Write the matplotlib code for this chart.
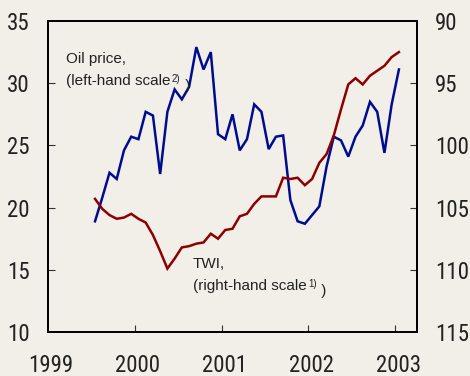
import matplotlib
matplotlib.use("Agg")
import matplotlib.pyplot as plt
import matplotlib.transforms as mtransforms
from matplotlib import font_manager
import numpy as np

# Monthly observations, July 1999 - January 2003 (mid-month positions)
start_year = 1999
start_month = 6  # July (0-based)

oil_price = [18.9, 20.8, 22.8, 22.3, 24.6, 25.7, 25.5, 27.7, 27.4, 22.7,
             27.7, 29.5, 28.7, 29.7, 32.9, 31.1, 32.5, 25.9, 25.5, 27.5,
             24.6, 25.5, 28.3, 27.7, 24.7, 25.7, 25.8, 20.6, 18.9, 18.7,
             19.4, 20.1, 23.3, 25.7, 25.4, 24.1, 25.7, 26.6, 28.5, 27.7,
             24.4, 28.3, 31.1]

twi = [104.3, 105.1, 105.6, 105.9, 105.8, 105.5, 105.9, 106.2, 107.2, 108.5,
       109.9, 109.1, 108.2, 108.1, 107.9, 107.8, 107.1, 107.5, 106.8, 106.7,
       105.7, 105.5, 104.7, 104.1, 104.1, 104.1, 102.6, 102.7, 102.6, 103.2,
       102.7, 101.4, 100.7, 99.2, 97.1, 95.1, 94.6, 95.1, 94.4, 94.0,
       93.6, 92.9, 92.5]

year_ticks = [1999, 2000, 2001, 2002, 2003]
left_ticks = [10, 15, 20, 25, 30, 35]
right_ticks = [90, 95, 100, 105, 110, 115]

n = len(oil_price)
dates = start_year + (start_month + np.arange(n) + 0.5) / 12.0

BG = "#f2efe9"
BLUE = "#000c8f"
RED = "#8c0000"
TEXT = "#222222"

# prefer a narrow sans face for the axis numbers when one is installed
installed = {f.name for f in font_manager.fontManager.ttflist}
narrow = next((f for f in ("Liberation Sans Narrow", "Arial Narrow",
                           "Roboto Condensed", "Open Sans Condensed")
               if f in installed), None)
if narrow:
    TICK_FONT = [narrow, "DejaVu Sans"]
    TICK_SIZE = 16.5
else:
    TICK_FONT = ["Liberation Sans", "DejaVu Sans"]
    TICK_SIZE = 13.8
LABEL_FONT = ["Liberation Sans", "DejaVu Sans"]
LABEL_SIZE, NOTE_SIZE = 11, 7

plt.rcParams["font.family"] = TICK_FONT

fig = plt.figure(figsize=(4.70, 3.76), dpi=100, facecolor=BG)
ax = fig.add_axes([48 / 470, 44 / 376, 369 / 470, 311 / 376])
ax.set_facecolor(BG)
ax2 = ax.twinx()

ax.plot(dates, oil_price, color=BLUE, lw=1.8, solid_joinstyle="miter", zorder=3)
ax2.plot(dates, twi, color=RED, lw=1.8, solid_joinstyle="miter", zorder=3)

ax.set_xlim(1999, 2003.25)
ax.set_ylim(10, 35)
ax2.set_ylim(115, 90)

ax.set_xticks(year_ticks)
ax.set_xticklabels([str(y) for y in year_ticks])
ax.set_yticks(left_ticks)
ax2.set_yticks(right_ticks)

for a in (ax, ax2):
    for s in a.spines.values():
        s.set_color("black")
        s.set_linewidth(1.3)

tick_kw = dict(direction="in", length=5, width=0.8, labelsize=TICK_SIZE,
               labelcolor=TEXT, color="#333333")
ax.tick_params(axis="x", pad=16, **tick_kw)
ax.tick_params(axis="y", pad=13, **tick_kw)
ax2.tick_params(axis="y", pad=13, **tick_kw)

# hide the tick marks sitting on the frame corners, keep their labels
for t in (ax.yaxis.get_major_ticks()[0], ax.yaxis.get_major_ticks()[-1],
          ax2.yaxis.get_major_ticks()[0], ax2.yaxis.get_major_ticks()[-1],
          ax.xaxis.get_major_ticks()[0]):
    t.tick1line.set_visible(False)
    t.tick2line.set_visible(False)

for lab in ax.get_xticklabels():
    lab.set_transform(lab.get_transform() +
                      mtransforms.ScaledTranslation(3 / 100, 0, fig.dpi_scale_trans))

# series labels with small raised footnote markers
def label(x, y, first, second, note):
    ax.text(x, y, first, transform=ax.transAxes, fontsize=LABEL_SIZE,
            family=LABEL_FONT, color=TEXT, ha="left", va="baseline")
    t = ax.text(x, y - 22 / 311, second, transform=ax.transAxes,
                fontsize=LABEL_SIZE, family=LABEL_FONT, color=TEXT,
                ha="left", va="baseline")
    s = ax.annotate(note, xy=(1, 0), xycoords=t, xytext=(1, 4.5),
                    textcoords="offset points", fontsize=NOTE_SIZE,
                    family=LABEL_FONT, color=TEXT, ha="left", va="baseline")
    ax.annotate(" )", xy=(1, 0), xycoords=s, xytext=(0, -4.5),
                textcoords="offset points", fontsize=LABEL_SIZE,
                family=LABEL_FONT, color=TEXT, ha="left", va="baseline")

label(18 / 369, (332 - 63) / 311, "Oil price,", "(left-hand scale", "2)")
label(145 / 369, (332 - 268) / 311, "TWI,", "(right-hand scale", "1)")

fig.savefig("out.png", dpi=100, facecolor=BG)
